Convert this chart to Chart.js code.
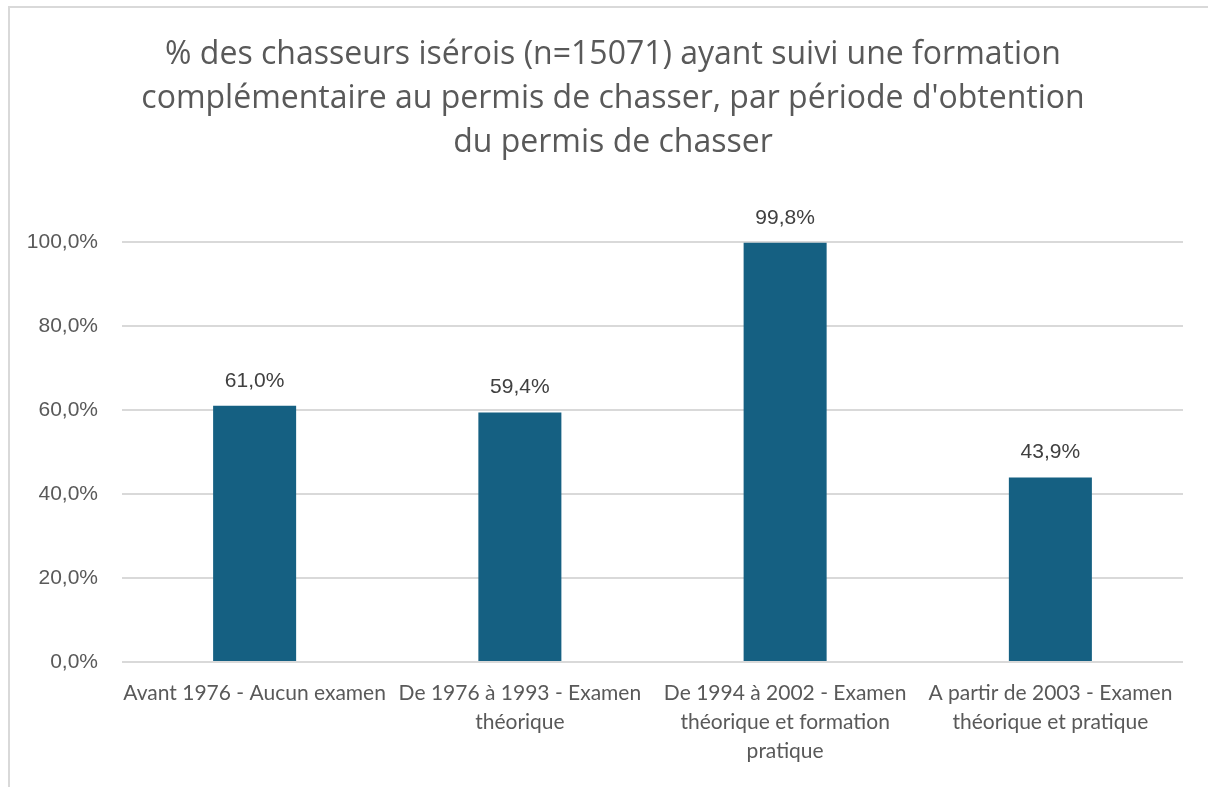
<!DOCTYPE html>
<html>
<head>
<meta charset="utf-8">
<script src="https://cdn.jsdelivr.net/npm/chart.js@4.4.0/dist/chart.umd.min.js"></script>
<style>
  html, body { margin: 0; padding: 0; background: #fff; overflow: hidden; }
  .frame {
    position: absolute; left: 8px; top: 6px; width: 1400px; height: 1000px;
    border-left: 2px solid #d9d9d9; border-top: 2px solid #d9d9d9;
  }
  .chart-container { position: absolute; left: 0; top: 0; width: 1226px; height: 787px; }
</style>
</head>
<body>
<div class="frame"></div>
<div class="chart-container"><canvas id="chasseChart"></canvas></div>
<script>
// Categories (wrapped as in the original)
const categories = [
    ['Avant 1976 - Aucun examen'],
    ['De 1976 à 1993 - Examen', 'théorique'],
    ['De 1994 à 2002 - Examen', 'théorique et formation', 'pratique'],
    ['A partir de 2003 - Examen', 'théorique et pratique']
];
const values = [61.0, 59.4, 99.8, 43.9];
const yTicks = [0, 20, 40, 60, 80, 100];
const titleLines = [
    '% des chasseurs isérois (n=15071) ayant suivi une formation',
    'complémentaire au permis de chasser, par période d\'obtention',
    'du permis de chasser'
];

const numFont = "'Liberation Sans Narrow', 'Arial Narrow', sans-serif";

function pct(v) {
    return v.toFixed(1).replace('.', ',') + '%';
}

// Draw value labels above bars
const valueLabels = {
    id: 'valueLabels',
    afterDatasetsDraw(chart) {
        const ctx = chart.ctx;
        const meta = chart.getDatasetMeta(0);
        ctx.save();
        ctx.font = '21px ' + numFont;
        ctx.fillStyle = '#404040';
        ctx.textAlign = 'center';
        ctx.textBaseline = 'middle';
        meta.data.forEach((bar, i) => {
            ctx.fillText(pct(values[i]), bar.x, bar.y - 25);
        });
        ctx.restore();
    }
};

const ctx = document.getElementById('chasseChart').getContext('2d');
const chart = new Chart(ctx, {
    type: 'bar',
    data: {
        labels: categories,
        datasets: [{
            data: values,
            backgroundColor: '#156082',
            borderWidth: 0,
            categoryPercentage: 1,
            barPercentage: 0.313
        }]
    },
    options: {
        responsive: true,
        maintainAspectRatio: false,
        animation: false,
        layout: { padding: 0 },
        plugins: {
            legend: { display: false },
            tooltip: { enabled: false },
            title: {
                display: true,
                text: titleLines,
                color: '#595959',
                font: { size: 32, family: "'Open Sans', sans-serif", weight: 'normal', lineHeight: 1.375 },
                padding: { top: 33, bottom: 77 }
            }
        },
        scales: {
            x: {
                grid: { display: false },
                border: { display: false },
                ticks: {
                    color: '#595959',
                    font: { size: 21, family: 'Lato, sans-serif', lineHeight: 1.38 },
                    padding: 9,
                    maxRotation: 0,
                    autoSkip: false
                },
                afterFit(scale) { scale.height = 125; }
            },
            y: {
                min: 0,
                max: 100,
                afterBuildTicks(scale) { scale.ticks = yTicks.map(v => ({ value: v })); },
                grid: { color: '#d9d9d9', lineWidth: 2, drawTicks: false },
                border: { display: false },
                ticks: {
                    color: '#595959',
                    font: { size: 21, family: numFont },
                    padding: 24,
                    callback: v => pct(v)
                },
                afterFit(scale) { scale.width = 122; }
            },
            // empty right-hand spacer so the title stays centred on the full frame
            spacer: {
                type: 'linear',
                position: 'right',
                grid: { display: false },
                border: { display: false },
                ticks: { display: false },
                afterFit(scale) { scale.width = 43; }
            }
        }
    },
    plugins: [valueLabels]
});
</script>
</body>
</html>
